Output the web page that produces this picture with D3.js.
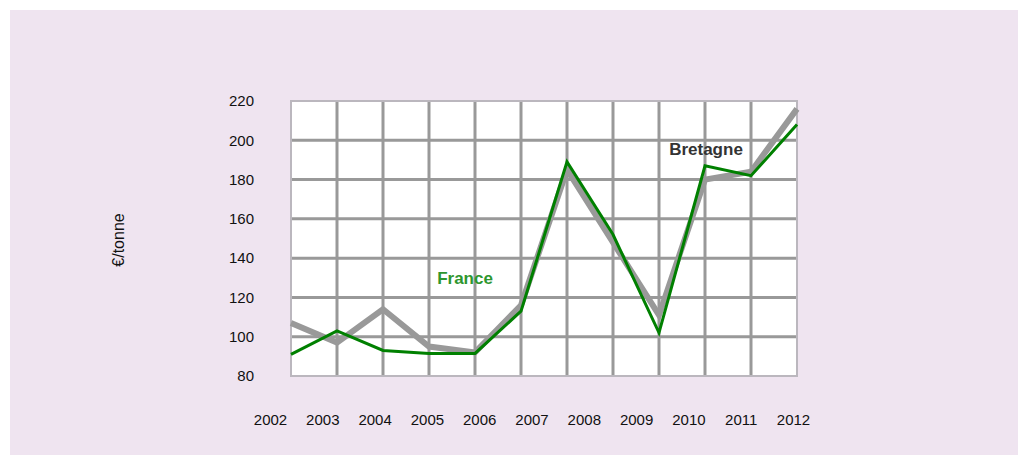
<!DOCTYPE html>
<html>
<head>
<meta charset="utf-8">
<script src="https://cdn.jsdelivr.net/npm/d3@7"></script>
<style>
  html, body { margin: 0; padding: 0; background: #ffffff; }
  svg { display: block; }
</style>
</head>
<body>
<svg id="chart" width="1018" height="455"></svg>
<script>
// ---- data ----
const points = [0, 1, 2, 3, 4, 5, 6, 7, 8, 9, 10, 11];
const bretagne = [107, 97, 114, 95, 92, 116, 185, 148, 111, 180, 184, 216];
const france = [91, 103, 93, 91.5, 91.5, 113, 189, 152, 102, 187, 182, 208];
const years = [2002, 2003, 2004, 2005, 2006, 2007, 2008, 2009, 2010, 2011, 2012];
const yTicks = [80, 100, 120, 140, 160, 180, 200, 220];
const yLabel = "€/tonne";
const seriesNames = ["Bretagne", "France"];

// ---- layout ----
const svg = d3.select("#chart");
const font = "'Liberation Sans', Arial, sans-serif";
const plot = { left: 291, right: 797, top: 101, bottom: 376 };

svg.append("rect").attr("x", 10).attr("y", 10).attr("width", 1008).attr("height", 445)
  .attr("fill", "#efe4f0");

const x = d3.scaleLinear().domain([0, 11]).range([plot.left, plot.right]);
const y = d3.scaleLinear().domain([80, 220]).range([plot.bottom, plot.top]);
const xYear = d3.scaleLinear().domain([2002, 2012]).range([270, 793]);

// plot background
svg.append("rect").attr("x", plot.left).attr("y", plot.top)
  .attr("width", plot.right - plot.left).attr("height", plot.bottom - plot.top)
  .attr("fill", "#ffffff");

// grid
const grid = svg.append("g");
grid.selectAll("line.h").data(yTicks.slice(1, -1)).join("line")
  .attr("x1", plot.left).attr("x2", plot.right)
  .attr("y1", d => y(d)).attr("y2", d => y(d))
  .attr("stroke", "#999999").attr("stroke-width", 3);
grid.selectAll("line.v").data(points.slice(1, -1)).join("line")
  .attr("y1", plot.top).attr("y2", plot.bottom)
  .attr("x1", d => x(d)).attr("x2", d => x(d))
  .attr("stroke", "#999999").attr("stroke-width", 3);

// border
svg.append("rect").attr("x", plot.left).attr("y", plot.top)
  .attr("width", plot.right - plot.left).attr("height", plot.bottom - plot.top)
  .attr("fill", "none").attr("stroke", "#bbb7be").attr("stroke-width", 2);

// y axis labels
const yAxis = d3.axisLeft(y).tickValues(yTicks).tickSize(0).tickPadding(37);
const gy = svg.append("g").attr("transform", `translate(${plot.left},0)`).call(yAxis);
gy.select(".domain").remove();
gy.selectAll("text").attr("font-family", font).attr("font-size", 15).attr("fill", "#111");

// x axis labels
const xAxis = d3.axisBottom(xYear).tickValues(years).tickFormat(d3.format("d")).tickSize(0).tickPadding(0);
const gx = svg.append("g").attr("transform", `translate(0,414)`).call(xAxis);
gx.select(".domain").remove();
gx.selectAll("text").attr("font-family", font).attr("font-size", 15).attr("fill", "#111");

// y label
svg.append("text")
  .attr("transform", "translate(124,240) rotate(-90)")
  .attr("text-anchor", "middle")
  .attr("font-family", font).attr("font-size", 16).attr("fill", "#111")
  .text(yLabel);

// lines
const line = d3.line().x((d, i) => x(points[i])).y(d => y(d));
svg.append("path").datum(bretagne).attr("d", line)
  .attr("fill", "none").attr("stroke", "#999999").attr("stroke-width", 6)
  .attr("stroke-linejoin", "miter");
svg.append("path").datum(france).attr("d", line)
  .attr("fill", "none").attr("stroke", "#008000").attr("stroke-width", 3)
  .attr("stroke-linejoin", "miter");

// series labels
svg.append("text").attr("x", 706).attr("y", 155).attr("text-anchor", "middle")
  .attr("font-family", font).attr("font-weight", "bold").attr("font-size", 17)
  .attr("fill", "#333333").text(seriesNames[0]);
svg.append("text").attr("x", 465).attr("y", 284).attr("text-anchor", "middle")
  .attr("font-family", font).attr("font-weight", "bold").attr("font-size", 17)
  .attr("fill", "#2e962e").text(seriesNames[1]);
</script>
</body>
</html>
